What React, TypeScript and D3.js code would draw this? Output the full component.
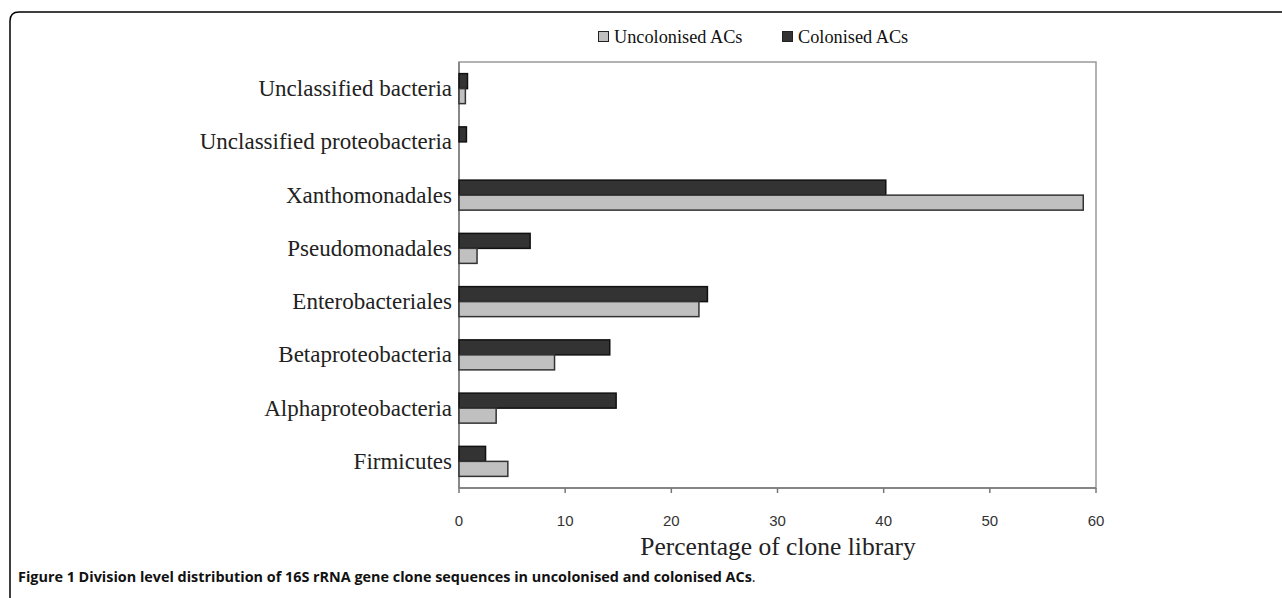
import React from 'react';
import * as d3 from 'd3';

const categories = [
  'Unclassified bacteria',
  'Unclassified proteobacteria',
  'Xanthomonadales',
  'Pseudomonadales',
  'Enterobacteriales',
  'Betaproteobacteria',
  'Alphaproteobacteria',
  'Firmicutes',
];
const colonised = [0.8, 0.7, 40.2, 6.7, 23.4, 14.2, 14.8, 2.5];
const uncolonised = [0.6, 0, 58.8, 1.7, 22.6, 9.0, 3.5, 4.6];
const xTicks = [0, 10, 20, 30, 40, 50, 60];
const seriesNames = ['Uncolonised ACs', 'Colonised ACs'];

const W = 1282;
const H = 598;
const left = 459;
const right = 1096;
const top = 62;
const bottom = 488;

const serif = '"Liberation Serif", "Times New Roman", serif';
const sans = '"Liberation Sans", Arial, sans-serif';

export default function App() {
  const x = d3.scaleLinear().domain([0, 60]).range([left, right]);
  const y = d3.scaleBand().domain(categories).range([top, bottom]);
  const barH = 15;

  // frame with rounded top-left corner
  const r = 9;
  const frame = `M10,${H} L10,${12 + r} Q10,12 ${10 + r},12 L${W},12`;

  return (
    <svg width={W} height={H} style={{ position: 'absolute', left: 0, top: 0, background: '#fff' }}>
      <path d={frame} fill="none" stroke="#000" strokeWidth={1.5} />

      {/* legend */}
      <g fontFamily={serif} fontSize={18.3} fill="#111">
        <rect x={598.5} y={31.5} width={10} height={10} fill="#c0c0c0" stroke="#222" />
        <text x={614} y={43}>{seriesNames[0]}</text>
        <rect x={782.5} y={31.5} width={10} height={10} fill="#333" stroke="#222" />
        <text x={798} y={43}>{seriesNames[1]}</text>
      </g>

      {/* plot frame */}
      <rect x={left} y={top} width={right - left} height={bottom - top} fill="none" stroke="#999" strokeWidth={1.5} />
      <line x1={left} x2={left} y1={top} y2={bottom} stroke="#888" strokeWidth={2} />
      <line x1={left} x2={right} y1={bottom} y2={bottom} stroke="#777" strokeWidth={1.5} />

      {/* bars */}
      {categories.map((c, i) => {
        const cy = (y(c) as number) + y.bandwidth() / 2;
        return (
          <g key={c}>
            {colonised[i] > 0 && (
              <rect x={x(0)} y={cy - barH} width={x(colonised[i]) - x(0)} height={barH}
                fill="#333" stroke="#111" strokeWidth={1.5} />
            )}
            {uncolonised[i] > 0 && (
              <rect x={x(0)} y={cy} width={x(uncolonised[i]) - x(0)} height={barH}
                fill="#c0c0c0" stroke="#333" strokeWidth={1.5} />
            )}
            <text x={452} y={cy} dy="0.33em" textAnchor="end" fontFamily={serif} fontSize={23} fill="#222">{c}</text>
          </g>
        );
      })}

      {/* x axis ticks */}
      {xTicks.map((t) => (
        <g key={t}>
          <line x1={x(t)} x2={x(t)} y1={bottom} y2={bottom + 5} stroke="#777" strokeWidth={1.5} />
          <text x={x(t)} y={526} textAnchor="middle" fontFamily={sans} fontSize={15} fill="#333">{t}</text>
        </g>
      ))}
      <text x={778} y={555} textAnchor="middle" fontFamily={serif} fontSize={25.5} fill="#222">
        Percentage of clone library
      </text>

      {/* caption */}
      <text x={18} y={582} fontFamily='"Open Sans", "Noto Sans", sans-serif' fontSize={14.4} fill="#111">
        <tspan fontWeight="bold">Figure 1 Division level distribution of 16S rRNA gene clone sequences in uncolonised and colonised ACs</tspan>
        <tspan>.</tspan>
      </text>
    </svg>
  );
}
